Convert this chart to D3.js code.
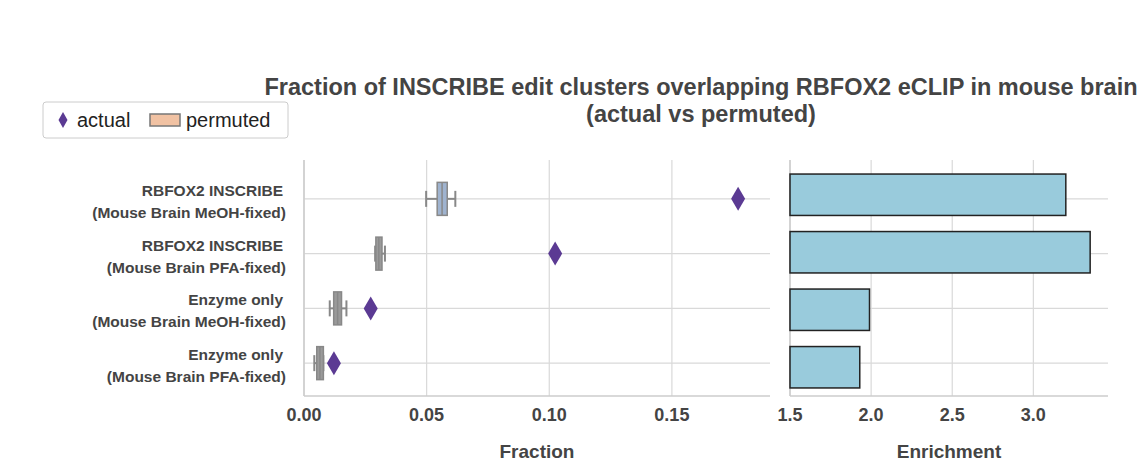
<!DOCTYPE html>
<html><head><meta charset="utf-8">
<script src="https://cdn.jsdelivr.net/npm/d3@7"></script>
<style>body{margin:0;background:#fff}text{font-family:"Liberation Sans",Arial,sans-serif}</style>
</head><body>
<script>
var categories = [
  ["RBFOX2 INSCRIBE", "(Mouse Brain MeOH-fixed)"],
  ["RBFOX2 INSCRIBE", "(Mouse Brain PFA-fixed)"],
  ["Enzyme only", "(Mouse Brain MeOH-fixed)"],
  ["Enzyme only", "(Mouse Brain PFA-fixed)"]
];
var actual = [0.177, 0.1024, 0.0272, 0.0122];
// permuted box stats: [whiskerLow, q1, median, q3, whiskerHigh]
var permuted = [
  [0.0498, 0.0543, 0.0563, 0.0584, 0.0617],
  [0.0290, 0.0293, 0.0305, 0.0318, 0.0330],
  [0.0105, 0.0121, 0.0137, 0.0153, 0.0173],
  [0.0042, 0.0052, 0.0065, 0.0079, 0.0079]
];
var boxColors = ["#9fb3cf", "#9a9a9a", "#9a9a9a", "#9a9a9a"];
var enrichment = [3.20, 3.35, 1.99, 1.93];
var fracTicks = [0, 0.05, 0.10, 0.15];
var enrTicks = [1.5, 2.0, 2.5, 3.0];

var W = 1148, H = 475, pTop = 166, pBot = 396;
var svg = d3.select("body").append("svg").attr("width", W).attr("height", H);
var ink = "#444";

var y = d3.scaleBand().domain(d3.range(4)).range([pTop, pBot]).padding(0.2);
var x1 = d3.scaleLinear().domain([0, 0.19]).range([304, 770]);
var x2 = d3.scaleLinear().domain([1.5, 3.46]).range([790, 1108]);

function panel(x, ticks, fmt, label) {
  var g = svg.append("g");
  ticks.forEach(function (t) {
    g.append("line").attr("x1", x(t)).attr("x2", x(t)).attr("y1", 160).attr("y2", pBot).attr("stroke", "#d9d9d9").attr("stroke-width", 1.2);
    g.append("text").attr("x", x(t)).attr("y", pBot + 25).attr("text-anchor", "middle").attr("font-size", 18).attr("font-weight", "bold").attr("fill", ink).text(fmt(t));
  });
  d3.range(4).forEach(function (i) {
    var cy = y(i) + y.bandwidth() / 2;
    g.append("line").attr("x1", x.range()[0]).attr("x2", x.range()[1]).attr("y1", cy).attr("y2", cy).attr("stroke", "#d9d9d9").attr("stroke-width", 1.2);
  });
  g.append("line").attr("x1", x.range()[0]).attr("x2", x.range()[0]).attr("y1", 160).attr("y2", pBot).attr("stroke", "#ccc").attr("stroke-width", 1.5);
  g.append("line").attr("x1", x.range()[0]).attr("x2", x.range()[1]).attr("y1", pBot).attr("y2", pBot).attr("stroke", "#ccc").attr("stroke-width", 1.5);
  g.append("text").attr("x", d3.mean(x.range())).attr("y", pBot + 62).attr("text-anchor", "middle").attr("font-size", 19).attr("font-weight", "bold").attr("fill", ink).text(label);
  return g;
}

var g1 = panel(x1, fracTicks, function (t) { return t.toFixed(2); }, "Fraction");
var g2 = panel(x2, enrTicks, function (t) { return t.toFixed(1); }, "Enrichment");

// y labels
categories.forEach(function (c, i) {
  var cy = y(i) + y.bandwidth() / 2;
  var t = svg.append("text").attr("y", cy - 3).attr("text-anchor", "end").attr("font-size", 15.5).attr("font-weight", "bold").attr("fill", ink);
  t.append("tspan").attr("x", 283).text(c[0]);
  t.append("tspan").attr("x", 286).attr("dy", 22).text(c[1]);
});

// boxes
permuted.forEach(function (p, i) {
  var cy = y(i) + y.bandwidth() / 2, bh = 33, ch = 16, col = "#888";
  g1.append("line").attr("x1", x1(p[0])).attr("x2", x1(p[4])).attr("y1", cy).attr("y2", cy).attr("stroke", col).attr("stroke-width", 2);
  [p[0], p[4]].forEach(function (v) {
    g1.append("line").attr("x1", x1(v)).attr("x2", x1(v)).attr("y1", cy - ch / 2).attr("y2", cy + ch / 2).attr("stroke", col).attr("stroke-width", 2);
  });
  g1.append("rect").attr("x", x1(p[1])).attr("width", x1(p[3]) - x1(p[1])).attr("y", cy - bh / 2).attr("height", bh).attr("fill", boxColors[i]).attr("stroke", col).attr("stroke-width", 1.5);
  g1.append("line").attr("x1", x1(p[2])).attr("x2", x1(p[2])).attr("y1", cy - bh / 2).attr("y2", cy + bh / 2).attr("stroke", col).attr("stroke-width", 1.5);
});

// diamonds
var diamond = "M0,-12L7,0L0,12L-7,0Z";
actual.forEach(function (v, i) {
  var cy = y(i) + y.bandwidth() / 2;
  g1.append("path").attr("d", diamond).attr("transform", "translate(" + x1(v) + "," + cy + ")").attr("fill", "#5b3a93");
});

// bars
var yb = d3.scaleBand().domain(d3.range(4)).range([pTop, pBot]).padding(0);
enrichment.forEach(function (v, i) {
  var h = yb.bandwidth() * 0.72;
  var cy = yb(i) + yb.bandwidth() / 2;
  g2.append("rect").attr("x", x2(1.5)).attr("width", x2(v) - x2(1.5)).attr("y", cy - h / 2).attr("height", h).attr("fill", "#99cbdc").attr("stroke", "#222").attr("stroke-width", 1.5);
});

// title
svg.append("text").attr("x", 701).attr("y", 95).attr("text-anchor", "middle").attr("font-size", 23.5).attr("font-weight", "bold").attr("fill", ink).text("Fraction of INSCRIBE edit clusters overlapping RBFOX2 eCLIP in mouse brain");
svg.append("text").attr("x", 701).attr("y", 122).attr("text-anchor", "middle").attr("font-size", 23.5).attr("font-weight", "bold").attr("fill", ink).text("(actual vs permuted)");

// legend
var lg = svg.append("g");
lg.append("rect").attr("x", 43).attr("y", 102).attr("width", 245).attr("height", 36).attr("rx", 3).attr("fill", "#fff").attr("stroke", "#ccc");
lg.append("path").attr("d", "M0,-8L4.5,0L0,8L-4.5,0Z").attr("transform", "translate(63,120)").attr("fill", "#5b3a93");
lg.append("text").attr("x", 77).attr("y", 127).attr("font-size", 20).attr("fill", "#222").text("actual");
lg.append("rect").attr("x", 150).attr("y", 114).attr("width", 30).attr("height", 12).attr("fill", "#f1c2a3").attr("stroke", "#777").attr("stroke-width", 1.5);
lg.append("text").attr("x", 186).attr("y", 127).attr("font-size", 20).attr("fill", "#222").text("permuted");
</script>
</body></html>
